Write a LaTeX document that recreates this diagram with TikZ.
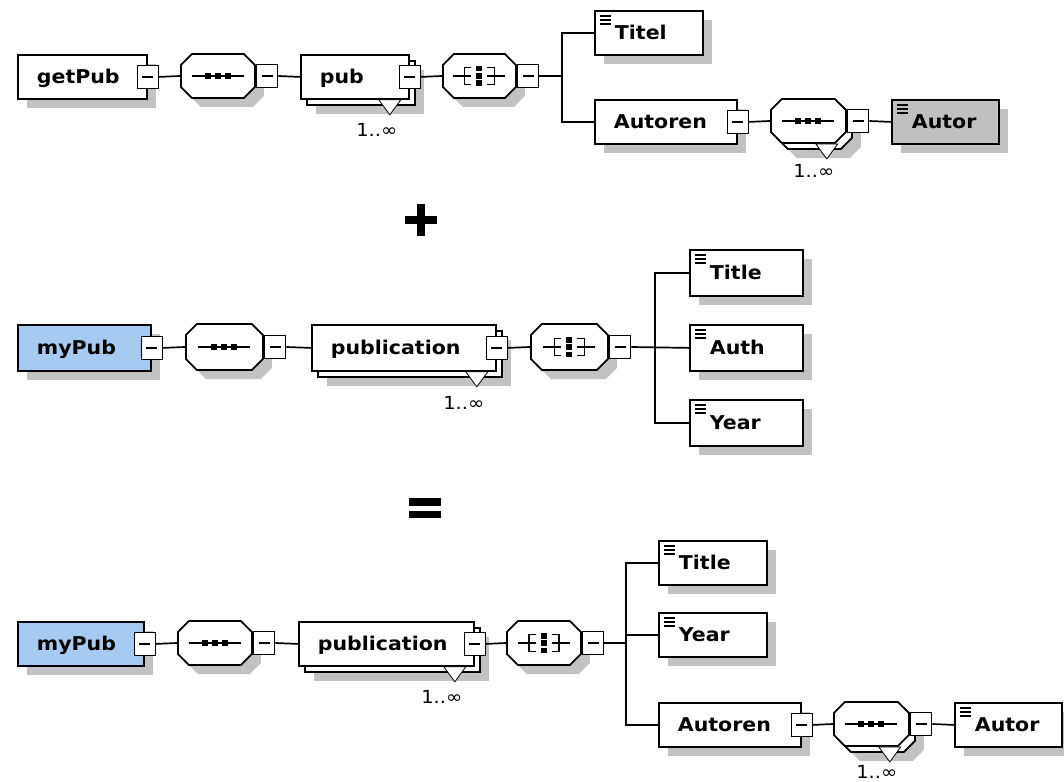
\documentclass[tikz,border=0pt]{standalone}
\usepackage{fontspec}
\newfontfamily\xsdfont[FakeStretch=1.08]{DejaVu Sans}
\usetikzlibrary{positioning,shadows}
\definecolor{shadowgray}{RGB}{194,194,194}
\definecolor{globalblue}{RGB}{166,202,240}
\definecolor{refgray}{RGB}{192,192,192}
% octagon shape for the compositors (rectangle with cut corners)
\makeatletter
\pgfdeclareshape{xsdoctagon}{
  \inheritsavedanchors[from=rectangle]
  \inheritanchorborder[from=rectangle]
  \inheritanchor[from=rectangle]{center}
  \inheritanchor[from=rectangle]{north}
  \inheritanchor[from=rectangle]{south}
  \inheritanchor[from=rectangle]{east}
  \inheritanchor[from=rectangle]{west}
  \inheritanchor[from=rectangle]{north east}
  \inheritanchor[from=rectangle]{north west}
  \inheritanchor[from=rectangle]{south east}
  \inheritanchor[from=rectangle]{south west}
  \backgroundpath{%
    \southwest \pgf@xa=\pgf@x \pgf@ya=\pgf@y
    \northeast \pgf@xb=\pgf@x \pgf@yb=\pgf@y
    \pgfmathsetlength\pgf@xc{\pgfkeysvalueof{/pgf/outer xsep}}%
    \pgfmathsetlength\pgf@yc{\pgfkeysvalueof{/pgf/outer ysep}}%
    \advance\pgf@xa by\pgf@xc \advance\pgf@ya by\pgf@yc
    \advance\pgf@xb by-\pgf@xc \advance\pgf@yb by-\pgf@yc
    \edef\xsd@l{\the\pgf@xa}\edef\xsd@b{\the\pgf@ya}%
    \edef\xsd@r{\the\pgf@xb}\edef\xsd@t{\the\pgf@yb}%
    \pgfpathmoveto{\pgfpoint{\xsd@l+11pt}{\xsd@b}}%
    \pgfpathlineto{\pgfpoint{\xsd@r-11pt}{\xsd@b}}%
    \pgfpathlineto{\pgfpoint{\xsd@r}{\xsd@b+11pt}}%
    \pgfpathlineto{\pgfpoint{\xsd@r}{\xsd@t-11pt}}%
    \pgfpathlineto{\pgfpoint{\xsd@r-11pt}{\xsd@t}}%
    \pgfpathlineto{\pgfpoint{\xsd@l+11pt}{\xsd@t}}%
    \pgfpathlineto{\pgfpoint{\xsd@l}{\xsd@t-11pt}}%
    \pgfpathlineto{\pgfpoint{\xsd@l}{\xsd@b+11pt}}%
    \pgfpathclose
  }
}
\makeatother
% sequence and choice symbols drawn inside the compositors
\newcommand\seqicon{%
  \begin{scope}[shift={(path picture bounding box.center)}, fill=black]
    \draw[line width=1.6pt] (-26,0) -- (26,0);
    \foreach \dx in {-10,0,10} \fill (\dx-3,-3) rectangle (\dx+3,3);
  \end{scope}}
\newcommand\choiceicon{%
  \begin{scope}[shift={(path picture bounding box.center)}, fill=black, line width=1.5pt]
    \draw (-26,0) -- (-8,0);
    \draw (-8,-8.5) -- (-15,-8.5) -- (-15,8.5) -- (-8,8.5);
    \draw (26,0) -- (8,0);
    \draw (8,-8.5) -- (15,-8.5) -- (15,8.5) -- (8,8.5);
    \fill (-3,-10) rectangle (3,-4.5);
    \fill (-3,-3) rectangle (3,3);
    \fill (-3,4.5) rectangle (3,10);
  \end{scope}}
\tikzset{
        xsdshadow/.style={drop shadow={shadow xshift=9pt, shadow yshift=-9pt, fill=shadowgray, opacity=1}},
        % Element boxes
        elembase/.style={draw, line width=1.8pt, fill=white, anchor=north west, minimum height=44pt, inner xsep=19pt, inner ysep=0pt, text height=14pt, text depth=0pt, align=left, font=\xsdfont\bfseries\fontsize{19pt}{22pt}\selectfont},
        elem/.style={elembase, xsdshadow},
        % Simple (leaf) elements
        leaf/.style={elem, inner xsep=20pt, path picture={\foreach \dy in {5,9,13} \draw[line width=1.3pt] ([shift={(5,\dy)}]path picture bounding box.north west) -- ++(11,0);}},
        % Compositors
        compbase/.style={xsdoctagon, draw, line width=1.8pt, fill=white, minimum height=44pt, inner sep=0pt, anchor=west},
        comp/.style={compbase, xsdshadow},
        seqsym/.style={path picture={\seqicon}},
        choicesym/.style={path picture={\choiceicon}},
        % Collapse boxes
        minus/.style={draw, fill=white, line width=1.5pt, minimum width=21pt, minimum height=23pt, inner sep=0pt, path picture={\draw[line width=1.4pt] ([xshift=5pt]path picture bounding box.west) -- ([xshift=-5pt]path picture bounding box.east);}},
        mult/.style={font=\xsdfont\fontsize{18pt}{20pt}\selectfont, inner sep=0pt},
        conn/.style={line width=1.7pt}
}
\begin{document}
\begin{tikzpicture}[x=1pt, y=-1pt]
    \useasboundingbox (0,0) rectangle (1064,781);
    % getPub
    \node[elem, text width=91pt] (getPub) at (17,54) {getPub};
    \node[minus] (getPubM) at (getPub.east) {};
    \node[comp, seqsym, minimum width=74pt] (seqA) at (180,76) {};
    \node[minus, anchor=west] (seqAM) at (seqA.east) {};
    \node[elem, text width=70pt] (pubB) at (306,60) {};
    \node[elembase, text width=70pt] (pubA) at (300,54) {pub};
    \node[minus] (pubAM) at (pubA.east) {};
    \node[comp, choicesym, minimum width=73pt] (choiceA) at (442,76) {};
    \node[minus, anchor=west] (choiceAM) at (choiceA.east) {};
    \coordinate (brA) at (562,76);
    \node[leaf, text width=68pt] (titelA) at (594,10) {Titel};
    \node[elem, text width=104pt] (autorenA) at (594,99) {Autoren};
    \node[minus] (autorenAM) at (autorenA.east) {};
    \node[comp, minimum width=75pt] (seqBback) at (776,127) {};
    \node[compbase, seqsym, minimum width=75pt] (seqB) at (770,121) {};
    \node[minus, anchor=west] (seqBM) at (seqB.east) {};
    \node[leaf, fill=refgray, text width=67pt] (autorA) at (891,99) {Autor};
    \draw[conn] (getPubM.east) -- (seqA.west);
    \draw[conn] (seqAM.east) -- (pubA.west);
    \draw[conn] (pubAM.east) -- (choiceA.west);
    \draw[conn] (choiceAM.east) -- (brA);
    \draw[conn] (titelA.west) -| (brA) |- (autorenA.west);
    \draw[conn] (autorenAM.east) -- (seqB.west);
    \draw[conn] (seqBM.east) -- (autorA.west);

    % plus
    \fill (405,216) rectangle (437,224);
    \fill (417,204) rectangle (425,236);

    % myPub
    \node[elem, fill=globalblue, minimum height=46pt, text width=95pt] (myPubC) at (17,324) {myPub};
    \node[minus] (myPubCM) at (myPubC.east) {};
    \node[comp, seqsym, minimum width=77pt, minimum height=46pt] (seqC) at (185,347) {};
    \node[minus, anchor=west] (seqCM) at (seqC.east) {};
    \node[elem, minimum height=46pt, text width=146pt] (pubCback) at (317,330) {};
    \node[elembase, minimum height=46pt, text width=146pt] (pubC) at (311,324) {publication};
    \node[minus] (pubCM) at (pubC.east) {};
    \node[comp, choicesym, minimum width=77pt, minimum height=46pt] (choiceC) at (530,347) {};
    \node[minus, anchor=west] (choiceCM) at (choiceC.east) {};
    \coordinate (brC) at (655,347);
    \node[leaf, minimum height=46pt, text width=73pt] (titleC) at (689,249) {Title};
    \node[leaf, minimum height=46pt, text width=73pt] (authC) at (689,324) {Auth};
    \node[leaf, minimum height=46pt, text width=73pt] (yearC) at (689,399) {Year};
    \draw[conn] (myPubCM.east) -- (seqC.west);
    \draw[conn] (seqCM.east) -- (pubC.west);
    \draw[conn] (pubCM.east) -- (choiceC.west);
    \draw[conn] (choiceCM.east) -- (authC.west);
    \draw[conn] (titleC.west) -| (brC) |- (yearC.west);

    % equals
    \fill (409,498) rectangle (441,506);
    \fill (409,511) rectangle (441,518);

    % result
    \node[elem, fill=globalblue, text width=88pt] (myPubD) at (17,621) {myPub};
    \node[minus] (myPubDM) at (myPubD.east) {};
    \node[comp, seqsym, minimum width=74pt] (seqD) at (177,643) {};
    \node[minus, anchor=west] (seqDM) at (seqD.east) {};
    \node[elem, text width=137pt] (pubDback) at (304,627) {};
    \node[elembase, text width=137pt] (pubD) at (298,621) {publication};
    \node[minus] (pubDM) at (pubD.east) {};
    \node[comp, choicesym, minimum width=74pt] (choiceD) at (506,643) {};
    \node[minus, anchor=west] (choiceDM) at (choiceD.east) {};
    \coordinate (brD) at (626,643);
    \node[leaf, text width=68pt] (titleD) at (658,540) {Title};
    \node[leaf, text width=68pt] (yearD) at (658,612) {Year};
    \node[elem, text width=104pt] (autorenD) at (658,702) {Autoren};
    \node[minus] (autorenDM) at (autorenD.east) {};
    \node[comp, minimum width=75pt] (seqEback) at (839,730) {};
    \node[compbase, seqsym, minimum width=75pt] (seqE) at (833,724) {};
    \node[minus, anchor=west] (seqEM) at (seqE.east) {};
    \node[leaf, text width=67pt] (autorD) at (954,702) {Autor};
    \draw[conn] (myPubDM.east) -- (seqD.west);
    \draw[conn] (seqDM.east) -- (pubD.west);
    \draw[conn] (pubDM.east) -- (choiceD.west);
    \draw[conn] (choiceDM.east) -- (brD);
    \draw[conn] (titleD.west) -| (brD) |- (autorenD.west);
    \draw[conn] (yearD.west) -- (yearD.west -| brD);
    \draw[conn] (autorenDM.east) -- (seqE.west);
    \draw[conn] (seqEM.east) -- (autorD.west);

    % 1..unbounded markers
    \foreach \n/\dy in {pubA/30,seqB/27,pubC/31,pubD/30,seqE/25} {
        \filldraw[fill=white, line width=0.8pt] ([xshift=-31pt]\n.east |- \n.south) -- ++(22,0) -- ++(-11,15) -- cycle;
        \node[mult] (\n-mult) at ([xshift=-33pt, yshift=-\dy pt]\n.east |- \n.south) {1..∞};
    }
\end{tikzpicture}
\end{document}
